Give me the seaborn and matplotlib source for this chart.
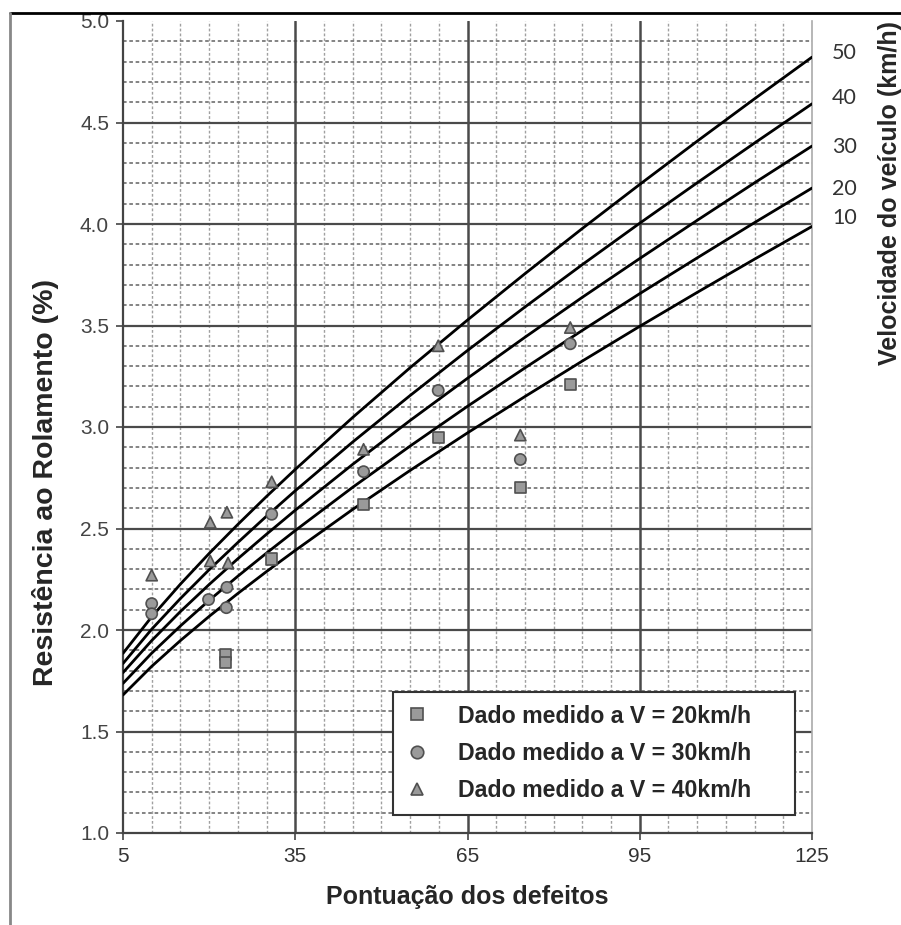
import numpy as np
import pandas as pd
import seaborn as sns
import matplotlib
matplotlib.use("Agg")
import matplotlib.pyplot as plt
from matplotlib.lines import Line2D
from matplotlib.ticker import MultipleLocator
import matplotlib.transforms as mtransforms

# ---- data ----
curve_x = [5, 10, 15, 20, 25, 30, 35, 45, 55, 65, 75, 85, 95, 105, 115, 125]
curve_v10 = [1.680, 1.821, 1.948, 2.067, 2.180, 2.288, 2.392, 2.594, 2.786, 2.971,
             3.150, 3.325, 3.496, 3.663, 3.827, 3.988]
curve_v20 = [1.737, 1.886, 2.020, 2.146, 2.265, 2.379, 2.490, 2.703, 2.906, 3.102,
             3.291, 3.476, 3.657, 3.833, 4.007, 4.177]
curve_v30 = [1.790, 1.948, 2.091, 2.224, 2.351, 2.472, 2.590, 2.816, 3.032, 3.240,
             3.442, 3.639, 3.830, 4.018, 4.203, 4.384]
curve_v40 = [1.835, 2.004, 2.155, 2.297, 2.431, 2.561, 2.686, 2.926, 3.155, 3.377,
             3.591, 3.800, 4.004, 4.203, 4.399, 4.592]
curve_v50 = [1.885, 2.065, 2.226, 2.377, 2.520, 2.658, 2.791, 3.047, 3.292, 3.527,
             3.755, 3.978, 4.195, 4.408, 4.617, 4.822]
speed_labels = ["10", "20", "30", "40", "50"]
speed_label_y = [4.03, 4.17, 4.38, 4.62, 4.84]

sq_x = [22.8, 22.8, 30.9, 46.9, 59.9, 74.2, 82.9]
sq_y = [1.88, 1.84, 2.35, 2.62, 2.95, 2.70, 3.21]
ci_x = [10.0, 10.0, 19.9, 23.1, 23.0, 30.9, 46.9, 59.9, 74.2, 82.9]
ci_y = [2.13, 2.08, 2.15, 2.21, 2.11, 2.57, 2.78, 3.18, 2.84, 3.41]
tr_x = [10.0, 20.2, 23.1, 20.2, 23.3, 30.9, 46.9, 59.9, 74.2, 82.9]
tr_y = [2.27, 2.53, 2.58, 2.34, 2.33, 2.73, 2.89, 3.40, 2.96, 3.49]
legend_labels = ["Dado medido a V = 20km/h", "Dado medido a V = 30km/h", "Dado medido a V = 40km/h"]

x_ticks = [5, 35, 65, 95, 125]
y_ticks = [1.0, 1.5, 2.0, 2.5, 3.0, 3.5, 4.0, 4.5, 5.0]

# ---- build tables ----
curves = pd.DataFrame({
    "x": curve_x * 5,
    "y": curve_v10 + curve_v20 + curve_v30 + curve_v40 + curve_v50,
    "v": sum([[s] * len(curve_x) for s in speed_labels], []),
})
pts = pd.DataFrame({
    "x": sq_x + ci_x + tr_x,
    "y": sq_y + ci_y + tr_y,
    "g": ["20"] * len(sq_x) + ["30"] * len(ci_x) + ["40"] * len(tr_x),
})

sns.set_style("white")
plt.rcParams["font.family"] = ["Liberation Sans", "DejaVu Sans"]

fig = plt.figure(figsize=(9.01, 9.25), dpi=100)
ax = fig.add_axes([123 / 901, 1 - 833 / 925, (812 - 123) / 901, (833 - 21) / 925])

ax.set_xlim(5, 125)
ax.set_ylim(1.0, 5.0)

# grid
ax.xaxis.set_minor_locator(MultipleLocator(5))
ax.yaxis.set_minor_locator(MultipleLocator(0.1))
ax.grid(which="minor", axis="x", color="#a0a0a0", lw=1.0, ls=(0, (2, 1.5)))
ax.grid(which="minor", axis="y", color="#7a7a7a", lw=1.3, ls=(0, (2, 1.5)))
for yv in [1.5, 2.0, 2.5, 3.0, 3.5, 4.0, 4.5]:
    ax.axhline(yv, color="#4a4a4a", lw=1.6, zorder=1)
for xv in [35, 65, 95]:
    ax.axvline(xv, color="#4a4a4a", lw=1.8, zorder=1)
ax.set_axisbelow(True)

# curves
sns.lineplot(data=curves, x="x", y="y", units="v", estimator=None,
             color="black", lw=2.0, ax=ax, legend=False, zorder=3)

# measured points
sns.scatterplot(data=pts, x="x", y="y", style="g",
                markers={"20": "s", "30": "o", "40": "^"},
                color="#9a9a9a", edgecolor="#505050", linewidth=1.2,
                s=65, ax=ax, legend=False, zorder=4)

# ticks
ax.set_xticks(x_ticks)
ax.set_yticks(y_ticks)
ax.set_xticklabels([str(t) for t in x_ticks], fontsize=15, color="#333333")
ax.set_yticklabels([f"{t:.1f}" for t in y_ticks], fontsize=15, color="#444444")
ax.tick_params(axis="both", which="major", length=5, width=1.2, color="#444444",
               direction="out", bottom=True, left=True, pad=5)
ax.tick_params(which="minor", length=0)

for side in ["left", "bottom"]:
    ax.spines[side].set_color("#444444")
    ax.spines[side].set_linewidth(1.6)
ax.spines["right"].set_color("#aaaaaa")
ax.spines["right"].set_linewidth(1.2)
ax.spines["top"].set_visible(False)

ax.set_xlabel("Pontuação dos defeitos", fontsize=18, fontweight="bold", labelpad=14)
ax.set_ylabel("Resistência ao Rolamento (%)", fontsize=20.5, fontweight="bold", va="center")
ax.yaxis.set_label_coords(-0.112, 0.432)

# right-side speed labels
trans = mtransforms.blended_transform_factory(ax.transAxes, ax.transData)
for lab, yv in zip(speed_labels, speed_label_y):
    ax.text(1.029, yv, lab, transform=trans, fontsize=15.5, color="#333333",
            family=["Lato", "DejaVu Sans"], va="center", ha="left")
ax.text(1.113, 0.788, "Velocidade do veículo (km/h)", transform=ax.transAxes,
        rotation=90, fontsize=18, fontweight="bold", va="center", ha="center")

# legend
handles = [
    Line2D([], [], marker=m, ls="none", markersize=9, markerfacecolor="#9a9a9a",
           markeredgecolor="#505050", markeredgewidth=1.2)
    for m in ["s", "o", "^"]
]
leg = ax.legend(handles, legend_labels, loc="lower left",
                bbox_to_anchor=(0.392, 0.022, 0.583, 0.2), mode="expand",
                borderaxespad=0,
                prop={"weight": "bold", "size": 16.7}, frameon=True, fancybox=False,
                framealpha=1, edgecolor="#333333", handlelength=1.0, handletextpad=1.25,
                labelspacing=0.62, borderpad=0.55)
leg.get_frame().set_linewidth(1.5)
leg.set_zorder(6)

# outer image frame lines
fig.add_artist(Line2D([10 / 901, 1], [1 - 13 / 925, 1 - 13 / 925], transform=fig.transFigure,
                      color="black", lw=2))
fig.add_artist(Line2D([10 / 901, 10 / 901], [0, 1 - 13 / 925], transform=fig.transFigure,
                      color="#888888", lw=2))

fig.savefig("out.png", dpi=100)
